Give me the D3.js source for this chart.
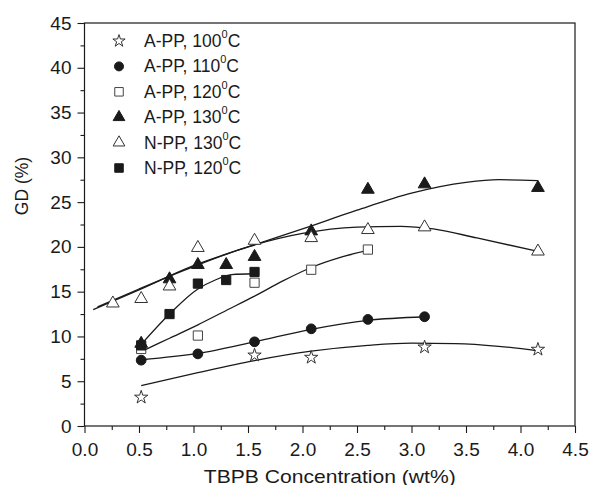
<!DOCTYPE html>
<html><head><meta charset="utf-8">
<script src="https://cdn.jsdelivr.net/npm/d3@7"></script>
<style>body{margin:0;background:#fff}svg{display:block}text{font-family:"Liberation Sans",Arial,sans-serif;fill:#1a1a1a}</style>
</head><body><svg id="c" width="590" height="485"></svg>
<script>
// ---- data ----
const xTicks = [0,0.5,1,1.5,2,2.5,3,3.5,4,4.5];
const yTicks = [0,5,10,15,20,25,30,35,40,45];
const legendLabels = ["A-PP, 100","A-PP, 110","A-PP, 120","A-PP, 130","N-PP, 130","N-PP, 120"];

const aPP100X = [0.52,1.56,2.08,3.12,4.16];
const aPP100Y = [3.2,7.9,7.65,8.8,8.55];
const aPP110X = [0.52,1.04,1.56,2.08,2.60,3.12];
const aPP110Y = [7.35,8.05,9.4,10.85,11.9,12.2];
const aPP120X = [0.52,1.04,1.56,2.08,2.60];
const aPP120Y = [8.6,10.1,16.0,17.45,19.7];
const aPP130X = [0.52,0.78,1.04,1.30,1.56,2.08,2.60,3.12,4.16];
const aPP130Y = [9.2,16.4,18.0,18.0,18.9,21.75,26.4,27.0,26.6];
const nPP130X = [0.26,0.52,0.78,1.04,1.56,2.08,2.60,3.12,4.16];
const nPP130Y = [13.7,14.2,15.6,19.9,20.7,21.0,21.9,22.2,19.5];
const nPP120X = [0.52,0.78,1.04,1.30,1.56];
const nPP120Y = [9.0,12.5,15.9,16.3,17.2];

// fitted curves
const fit100X = [0.52,1.04,1.56,2.08,2.6,3.0,3.4,3.8,4.16];
const fit100Y = [4.5,5.95,7.3,8.35,9.0,9.25,9.2,8.9,8.4];
const fit110X = [0.52,1.04,1.56,2.08,2.6,3.12];
const fit110Y = [7.4,8.1,9.4,10.8,11.8,12.2];
const fit120X = [0.52,0.78,1.04,1.3,1.56,1.82,2.08,2.34,2.6];
const fit120Y = [8.3,9.8,11.3,12.9,14.5,16.2,17.7,18.8,19.6];
const fitA130X = [0.08,0.5,1.0,1.5,2.0,2.5,3.0,3.5,3.8,4.16];
const fitA130Y = [13.0,15.2,17.9,20.0,22.0,24.1,26.0,27.2,27.5,27.4];
const fitN130X = [0.12,0.5,1.0,1.5,2.0,2.5,2.9,3.2,3.6,4.16];
const fitN130Y = [13.3,15.3,17.8,20.0,21.5,22.2,22.3,22.0,21.0,19.5];
const fitN120X = [0.52,0.78,1.04,1.2,1.35,1.56];
const fitN120Y = [9.1,12.5,15.3,16.3,16.9,17.0];

// ---- drawing ----
const svg = d3.select("#c");
const L=84.5, R=575, T=23, B=426;
const x = d3.scaleLinear().domain([0,4.5]).range([L,R]);
const y = d3.scaleLinear().domain([0,45]).range([B,T]);
const ink = "#1a1a1a";

// frame
svg.append("rect").attr("x",L).attr("y",T).attr("width",R-L).attr("height",B-T)
  .attr("fill","none").attr("stroke",ink).attr("stroke-width",1.2);

// axes
const xMinor = d3.range(0,4.5001,0.25).filter(v=>Math.abs(v*2-Math.round(v*2))>1e-6);
const yMinor = d3.range(2.5,45,5);
svg.append("g").attr("transform",`translate(0,${B})`)
  .call(d3.axisBottom(x).tickValues(xTicks).tickFormat(d3.format(".1f")).tickSize(7).tickPadding(10));
svg.append("g").attr("transform",`translate(0,${B})`)
  .call(d3.axisBottom(x).tickValues(xMinor).tickFormat("").tickSize(4));
svg.append("g").attr("transform",`translate(${L},0)`)
  .call(d3.axisLeft(y).tickValues(yTicks).tickFormat(d3.format("d")).tickSize(7).tickPadding(6));
svg.append("g").attr("transform",`translate(${L},0)`)
  .call(d3.axisLeft(y).tickValues(yMinor).tickFormat("").tickSize(4));
svg.selectAll(".domain").remove();
svg.selectAll(".tick line").attr("stroke",ink).attr("stroke-width",1.1);
svg.selectAll(".tick text").attr("font-size",19).attr("fill",ink)
  .style("font-family",'"Liberation Sans",Arial,sans-serif');

// axis titles
svg.append("text").attr("x",(L+R)/2).attr("y",482.5).attr("text-anchor","middle")
  .attr("font-size",18.5).attr("textLength",252).attr("lengthAdjust","spacingAndGlyphs")
  .text("TBPB Concentration (wt%)");
svg.append("text").attr("transform","translate(28,186) rotate(-90)").attr("text-anchor","middle")
  .attr("font-size",17.5).text("GD (%)");

// fit curves
const line = d3.line().x(d=>x(d[0])).y(d=>y(d[1])).curve(d3.curveMonotoneX);
const fits = [[fit100X,fit100Y],[fit110X,fit110Y],[fit120X,fit120Y],[fitA130X,fitA130Y],[fitN130X,fitN130Y],[fitN120X,fitN120Y]];
fits.forEach(([fx,fy])=>{
  svg.append("path").attr("d",line(d3.zip(fx,fy))).attr("fill","none")
    .attr("stroke",ink).attr("stroke-width",1.3);
});

// markers
const styles = [
  {type:d3.symbolStar, size:55, fill:"#fff", stroke:"#333"},
  {type:d3.symbolCircle, size:75, fill:ink, stroke:ink},
  {type:d3.symbolSquare, size:85, fill:"#fff", stroke:"#444"},
  {type:d3.symbolTriangle, size:70, fill:ink, stroke:ink},
  {type:d3.symbolTriangle, size:70, fill:"#fff", stroke:"#333"},
  {type:d3.symbolSquare, size:85, fill:ink, stroke:ink}
];
const series = [[aPP100X,aPP100Y],[aPP110X,aPP110Y],[aPP120X,aPP120Y],[aPP130X,aPP130Y],[nPP130X,nPP130Y],[nPP120X,nPP120Y]];
series.forEach(([sx,sy],i)=>{
  const st = styles[i];
  svg.append("g").selectAll("path").data(d3.zip(sx,sy)).join("path")
    .attr("transform",d=>`translate(${x(d[0])},${y(d[1])})`)
    .attr("d",d3.symbol(st.type,st.size)())
    .attr("fill",st.fill).attr("stroke",st.stroke).attr("stroke-width",1);
});

// legend
const lg = svg.append("g");
legendLabels.forEach((lab,i)=>{
  const ry = 41 + i*25.4;
  const st = styles[i];
  lg.append("path").attr("transform",`translate(119,${ry})`)
    .attr("d",d3.symbol(st.type,st.size*0.85)())
    .attr("fill",st.fill).attr("stroke",st.stroke).attr("stroke-width",1);
  const t = lg.append("text").attr("x",144).attr("y",ry+6).attr("font-size",17.5);
  t.append("tspan").text(lab);
  t.append("tspan").attr("font-size",11).attr("dy",-9).text("0");
  t.append("tspan").attr("dy",9).text("C");
});
</script></body></html>
